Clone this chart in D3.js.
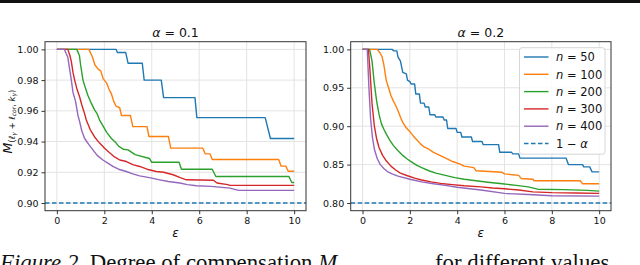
<!DOCTYPE html>
<html>
<head>
<meta charset="utf-8">
<script src="https://cdn.jsdelivr.net/npm/d3@7"></script>
<style>
  body { margin: 0; background: #fff; }
  svg { display: block; }
</style>
</head>
<body>
<svg id="chart"></svg>
<script>
// ---- data ----
const seriesLabels = ["50", "100", "200", "300", "400"];
const seriesColors = ["#1f77b4", "#ff7f0e", "#2ca02c", "#d62728", "#9467bd"];
const epsTicks = [0, 2, 4, 6, 8, 10];
const leftYTicks = [0.90, 0.92, 0.94, 0.96, 0.98, 1.00];
const rightYTicks = [0.80, 0.85, 0.90, 0.95, 1.00];
const panelTitles = ["0.1", "0.2"];
const targetLevels = [0.90, 0.80];

// alpha = 0.1, [eps, M]
const left50 = [[0,1],[2.5,1],[2.55,0.998],[2.9,0.998],[3.0,0.991],[3.6,0.991],[3.68,0.980],[4.4,0.980],[4.5,0.9686],
  [5.82,0.9686],[5.9,0.9556],[8.78,0.9556],[9.0,0.942],[10,0.942]];
const left100 = [[0,1],[1.35,1],[1.5,0.995],[1.6,0.99],[1.75,0.987],[1.85,0.986],[1.95,0.981],[2.1,0.978],[2.2,0.974],
  [2.3,0.971],[2.4,0.966],[2.5,0.963],[2.65,0.962],[2.72,0.957],[3.1,0.957],[3.2,0.9497],[3.8,0.9497],[3.88,0.9433],
  [4.7,0.9433],[4.8,0.9357],[6.15,0.9357],[6.25,0.932],[6.45,0.932],[6.55,0.9283],[9.35,0.9283],[9.45,0.924],
  [9.65,0.924],[9.75,0.9207],[10,0.9207]];
const left200 = [[0,1],[0.84,1],[0.95,0.996],[1.0,0.99],[1.1,0.98],[1.2,0.975],[1.31,0.970],[1.45,0.965],[1.59,0.9606],
  [1.7,0.958],[1.8,0.954],[1.95,0.95],[2.1,0.946],[2.3,0.942],[2.5,0.939],[2.6,0.937],[2.8,0.935],[3.0,0.9346],
  [3.3,0.9315],[3.9,0.929],[4.0,0.9265],[5.15,0.9265],[5.25,0.922],[6.55,0.922],[6.7,0.9173],[9.78,0.9173],
  [9.9,0.9134],[10,0.9134]];
const left300 = [[0,1],[0.46,1],[0.55,0.996],[0.61,0.992],[0.68,0.985],[0.75,0.98],[0.85,0.974],[0.96,0.969],[1.05,0.964],
  [1.17,0.958],[1.24,0.954],[1.4,0.948],[1.59,0.943],[1.8,0.939],[2.01,0.9357],[2.2,0.933],[2.43,0.930],[2.65,0.928],
  [2.93,0.927],[3.2,0.925],[3.49,0.9238],[3.8,0.922],[4.19,0.9205],[4.5,0.92],[4.9,0.9184],[5.2,0.9165],[5.46,0.9151],
  [6.6,0.9148],[6.75,0.913],[7.2,0.912],[7.3,0.9115],[10,0.9115]];
const left400 = [[0,1],[0.32,1],[0.4,0.997],[0.46,0.995],[0.53,0.988],[0.61,0.98],[0.68,0.972],[0.79,0.966],[0.89,0.957],
  [0.96,0.953],[1.05,0.947],[1.17,0.942],[1.35,0.938],[1.52,0.9346],[1.7,0.931],[1.94,0.928],[2.15,0.926],[2.36,0.9238],
  [2.6,0.922],[2.93,0.9205],[3.2,0.919],[3.49,0.9177],[3.9,0.9165],[4.33,0.9151],[4.7,0.914],[5.18,0.913],[5.5,0.912],
  [5.88,0.9112],[6.5,0.9108],[7.3,0.9097],[7.65,0.9082],[10,0.9082]];

// alpha = 0.2, [eps, M]
const right50 = [[0,1],[1.25,1],[1.32,0.998],[1.45,0.998],[1.5,0.99],[1.6,0.985],[1.7,0.97],[1.85,0.968],[1.9,0.96],
  [2.0,0.958],[2.05,0.955],[2.2,0.955],[2.25,0.942],[2.4,0.942],[2.45,0.93],[2.6,0.93],[2.65,0.925],[2.8,0.925],
  [2.85,0.915],[3.05,0.915],[3.1,0.912],[3.4,0.912],[3.45,0.908],[3.55,0.908],[3.6,0.897],[3.95,0.897],[4.0,0.892],
  [4.15,0.892],[4.2,0.886],[4.6,0.886],[4.65,0.880],[5.05,0.880],[5.1,0.876],[5.75,0.876],[5.8,0.866],[6.3,0.866],
  [6.35,0.864],[6.6,0.864],[6.65,0.8585],[8.6,0.8585],[8.7,0.85],[9.3,0.85],[9.35,0.847],[9.6,0.847],[9.7,0.8405],[10,0.8405]];
const right100 = [[0,1],[0.62,1],[0.75,0.995],[0.83,0.99],[0.9,0.98],[1.0,0.96],[1.1,0.95],[1.2,0.94],[1.3,0.933],
  [1.4,0.927],[1.5,0.92],[1.6,0.912],[1.7,0.905],[1.8,0.9],[1.9,0.896],[2.0,0.893],[2.15,0.887],[2.3,0.882],[2.45,0.877],
  [2.6,0.873],[2.8,0.87],[3.0,0.866],[3.2,0.863],[3.4,0.86],[3.6,0.857],[3.8,0.854],[4.1,0.851],[4.3,0.848],[4.7,0.846],
  [4.8,0.842],[5.9,0.84],[6.0,0.838],[6.6,0.836],[6.7,0.832],[7.2,0.831],[7.25,0.829],[9.2,0.829],[9.3,0.825],[10,0.825]];
const right200 = [[0,1],[0.3,1],[0.4,0.985],[0.5,0.955],[0.6,0.932],[0.7,0.915],[0.8,0.903],[0.9,0.896],[1.0,0.89],
  [1.15,0.882],[1.3,0.875],[1.5,0.868],[1.7,0.862],[1.9,0.857],[2.1,0.853],[2.3,0.849],[2.5,0.846],[2.8,0.842],
  [3.1,0.839],[3.5,0.836],[3.9,0.833],[4.3,0.831],[4.8,0.829],[5.3,0.827],[5.9,0.825],[6.5,0.823],[7.0,0.821],
  [7.4,0.818],[8.5,0.8175],[9.5,0.8165],[10,0.8155]];
const right300 = [[0,1],[0.25,1],[0.32,0.97],[0.4,0.93],[0.5,0.9],[0.6,0.883],[0.7,0.872],[0.85,0.862],[1.0,0.855],
  [1.2,0.848],[1.4,0.843],[1.6,0.839],[1.9,0.8355],[2.2,0.8325],[2.5,0.83],[2.9,0.8275],[3.3,0.8255],[3.8,0.824],
  [4.3,0.8225],[5.0,0.821],[5.5,0.8195],[6.0,0.8185],[6.6,0.817],[7.2,0.8145],[8,0.8135],[9,0.813],[10,0.8125]];
const right400 = [[0,1],[0.2,1],[0.27,0.95],[0.34,0.91],[0.42,0.885],[0.5,0.87],[0.62,0.858],[0.75,0.85],[0.9,0.845],
  [1.05,0.841],[1.25,0.838],[1.5,0.835],[2.0,0.831],[2.5,0.8275],[3.0,0.825],[3.5,0.823],[4.0,0.8205],[5.0,0.817],
  [6.0,0.8125],[7.0,0.811],[8,0.8095],[10,0.809]];

const leftSeries = [left50, left100, left200, left300, left400];
const rightSeries = [right50, right100, right200, right300, right400];

// ---- drawing ----
const width = 640, height = 265;
const svg = d3.select("#chart").attr("width", width).attr("height", height);
const font = "DejaVu Sans, sans-serif";

// rule at the top of the page
svg.append("rect").attr("x", 0).attr("y", 0).attr("width", width).attr("height", 3).attr("fill", "#111");

const panels = [
  { left: 45, right: 306, yDomain: [0.895, 1.005], yTicks: leftYTicks, series: leftSeries },
  { left: 350.7, right: 611, yDomain: [0.79, 1.01], yTicks: rightYTicks, series: rightSeries }
];
const plotTop = 41.7, plotBottom = 210.7;

const line = (x, y) => d3.line().x(d => x(d[0])).y(d => y(d[1]));

panels.forEach((p, i) => {
  const x = d3.scaleLinear().domain([-0.5, 10.5]).range([p.left, p.right]);
  const y = d3.scaleLinear().domain(p.yDomain).range([plotBottom, plotTop]);
  const g = svg.append("g");

  // grid
  g.selectAll(".vgrid").data(epsTicks).enter().append("line")
    .attr("x1", d => x(d)).attr("x2", d => x(d)).attr("y1", plotTop).attr("y2", plotBottom)
    .attr("stroke", "#e3e3e3").attr("stroke-width", 1);
  g.selectAll(".hgrid").data(p.yTicks).enter().append("line")
    .attr("x1", p.left).attr("x2", p.right).attr("y1", d => y(d)).attr("y2", d => y(d))
    .attr("stroke", "#e3e3e3").attr("stroke-width", 1);

  // curves
  p.series.forEach((s, k) => {
    g.append("path").datum(s)
      .attr("d", line(x, y))
      .attr("fill", "none")
      .attr("stroke", seriesColors[k])
      .attr("stroke-width", 1.4)
      .attr("stroke-linejoin", "round");
  });

  // 1 - alpha
  g.append("line")
    .attr("x1", p.left).attr("x2", p.right)
    .attr("y1", y(targetLevels[i])).attr("y2", y(targetLevels[i]))
    .attr("stroke", "#1f77b4").attr("stroke-width", 1.3).attr("stroke-dasharray", "4.5,2.5");

  // frame
  g.append("rect").attr("x", p.left).attr("y", plotTop)
    .attr("width", p.right - p.left).attr("height", plotBottom - plotTop)
    .attr("fill", "none").attr("stroke", "#333").attr("stroke-width", 1);

  // axes
  const xAxis = g.append("g").attr("transform", `translate(0,${plotBottom})`)
    .call(d3.axisBottom(x).tickValues(epsTicks).tickSize(3.5).tickPadding(3));
  const yAxis = g.append("g").attr("transform", `translate(${p.left},0)`)
    .call(d3.axisLeft(y).tickValues(p.yTicks).tickFormat(d3.format(".2f")).tickSize(3.5).tickPadding(3));
  [xAxis, yAxis].forEach(a => {
    a.select(".domain").remove();
    a.selectAll("line").attr("stroke", "#333");
    a.selectAll("text").attr("font-family", font).attr("font-size", 9.5).attr("fill", "#111");
  });

  // title
  const t = svg.append("text")
    .attr("x", (p.left + p.right) / 2).attr("y", 37)
    .attr("text-anchor", "middle")
    .attr("font-family", font).attr("font-size", 12.5).attr("fill", "#111");
  t.append("tspan").attr("font-style", "italic").text("α");
  t.append("tspan").text(" = " + panelTitles[i]);

  // x label
  svg.append("text")
    .attr("x", (p.left + p.right) / 2).attr("y", 237)
    .attr("text-anchor", "middle")
    .attr("font-family", font).attr("font-size", 12).attr("font-style", "italic").attr("fill", "#111")
    .text("ε");

  // legend in the right panel
  if (i === 1) {
    const lg = svg.append("g");
    lg.append("rect").attr("x", 519.5).attr("y", 47.7).attr("width", 85.5).attr("height", 106.5)
      .attr("rx", 2.5).attr("fill", "#fff").attr("fill-opacity", 0.85)
      .attr("stroke", "#d6d6d6").attr("stroke-width", 1);
    const rowY = d3.range(6).map(r => 57 + r * 17.3);
    seriesLabels.forEach((lab, k) => {
      lg.append("line").attr("x1", 524).attr("x2", 548.5)
        .attr("y1", rowY[k]).attr("y2", rowY[k])
        .attr("stroke", seriesColors[k]).attr("stroke-width", 1.4);
      const tx = lg.append("text").attr("x", 556).attr("y", rowY[k] + 4.2)
        .attr("font-family", font).attr("font-size", 11.5).attr("fill", "#111");
      tx.append("tspan").attr("font-style", "italic").text("n");
      tx.append("tspan").text(" = " + lab);
    });
    lg.append("line").attr("x1", 524).attr("x2", 548.5)
      .attr("y1", rowY[5]).attr("y2", rowY[5])
      .attr("stroke", "#1f77b4").attr("stroke-width", 1.3).attr("stroke-dasharray", "4.5,2.5");
    const tx = lg.append("text").attr("x", 556).attr("y", rowY[5] + 4.2)
      .attr("font-family", font).attr("font-size", 11.5).attr("fill", "#111");
    tx.append("tspan").text("1 − ");
    tx.append("tspan").attr("font-style", "italic").text("α");
  }
});

// y label of the left panel
const yl = svg.append("text")
  .attr("transform", "translate(12,121.5) rotate(-90)")
  .attr("text-anchor", "middle")
  .attr("font-family", font).attr("fill", "#111");
yl.append("tspan").attr("font-style", "italic").attr("font-size", 12.5).text("M");
yl.append("tspan").attr("font-size", 8.5).attr("dy", 2.5).text("(");
yl.append("tspan").attr("font-size", 8.5).attr("font-style", "italic").text("ℓ");
yl.append("tspan").attr("font-size", 6).attr("font-style", "italic").attr("dy", 1.5).text("γ");
yl.append("tspan").attr("font-size", 8.5).attr("dy", -1.5).text(" + ");
yl.append("tspan").attr("font-size", 8.5).attr("font-style", "italic").text("ℓ");
yl.append("tspan").attr("font-size", 6).attr("font-style", "italic").attr("dy", 1.5).text("cor");
yl.append("tspan").attr("font-size", 8.5).attr("dy", -1.5).text(", ");
yl.append("tspan").attr("font-size", 8.5).attr("font-style", "italic").text("k");
yl.append("tspan").attr("font-size", 6).attr("font-style", "italic").attr("dy", 1.5).text("γ");
yl.append("tspan").attr("font-size", 8.5).attr("dy", -1.5).text(")");

// caption (cut by the bottom edge, as in the source page)
const serif = "Liberation Serif, Times New Roman, serif";
const cap = svg.append("text").attr("x", 0).attr("y", 270)
  .attr("font-family", serif).attr("font-size", 22.8).attr("fill", "#111");
cap.append("tspan").attr("font-style", "italic").text("Figure 2.");
cap.append("tspan").text(" Degree of compensation ");
cap.append("tspan").attr("font-style", "italic").text("M");
const sub = cap.append("tspan").attr("font-size", 15).attr("dy", 5);
sub.append("tspan").text("(");
sub.append("tspan").attr("font-style", "italic").text("ℓ");
sub.append("tspan").attr("font-style", "italic").attr("font-size", 11).text("γ");
sub.append("tspan").text(" + ");
sub.append("tspan").attr("font-style", "italic").text("ℓ");
sub.append("tspan").attr("font-style", "italic").attr("font-size", 11).text("cor");
sub.append("tspan").text(", ");
sub.append("tspan").attr("font-style", "italic").text("k");
sub.append("tspan").attr("font-style", "italic").attr("font-size", 11).text("γ");
sub.append("tspan").text(")");
svg.append("text").attr("x", 435).attr("y", 270)
  .attr("font-family", serif).attr("font-size", 22.8).attr("fill", "#111")
  .text("for different values");
</script>
</body>
</html>
